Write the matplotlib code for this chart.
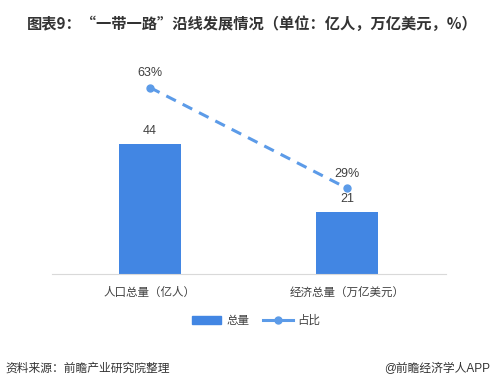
import matplotlib
matplotlib.use("Agg")
import matplotlib.pyplot as plt
from matplotlib.lines import Line2D
from matplotlib.patches import Patch

plt.rcParams['font.family'] = ['Liberation Sans', 'Noto Sans CJK SC', 'DejaVu Sans']

categories = ["人口总量（亿人）", "经济总量（万亿美元）"]
totals = [44, 21]
shares = [63, 29]
title = "图表9：“一带一路”沿线发展情况（单位：亿人，万亿美元，%）"

W, H = 495, 389
fig = plt.figure(figsize=(W/100, H/100), dpi=100)
ax = fig.add_axes([51.5/W, (H-274)/H, 394/W, 224/H])

bar_c = "#4286E3"
line_c = "#5C9BE8"
x = list(range(len(categories)))
ax.bar(x, totals, width=0.315, color=bar_c, zorder=2)
ax.plot(x, shares, color=line_c, lw=2.2, ls=(0, (3.5, 2.5)), marker='o', ms=5, zorder=3)

ax.set_xlim(-0.5, 1.5)
ax.set_ylim(0, 75.7)
for s in ['top', 'right', 'left']:
    ax.spines[s].set_visible(False)
ax.spines['bottom'].set_color('#d9d9d9')
ax.set_yticks([])
ax.set_xticks(x)
ax.set_xticklabels(categories, fontsize=8.3, color='#404040')
ax.tick_params(axis='x', length=0, pad=9)

for xi, v in zip(x, totals):
    ax.annotate(f"{v}", (xi, v), xytext=(0, 5), textcoords='offset points',
                ha='center', va='bottom', fontsize=9, color='#404040')
for xi, v in zip(x, shares):
    ax.annotate(f"{v}%", (xi, v), xytext=(0, 6), textcoords='offset points',
                ha='center', va='bottom', fontsize=9, color='#404040')

handles = [Patch(color=bar_c), Line2D([0], [0], color=line_c, lw=2.2, marker='o', ms=5)]
fig.legend(handles, ["总量", "占比"], loc='center', bbox_to_anchor=(256/W, 1-321/H),
           ncol=2, frameon=False, fontsize=8.3, handlelength=2.6, handleheight=0.6,
           columnspacing=1.2, handletextpad=0.4, labelcolor='#404040')

fig.text(27/W, 1-24/H, title, fontsize=11, fontweight='bold', color='#333333',
         ha='left', va='center', family=['Noto Sans CJK SC', 'DejaVu Sans'])
fig.text(5/W, 1-369/H, "资料来源：前瞻产业研究院整理", fontsize=8.5, style='italic',
         color='#333333', ha='left', va='center')
fig.text(490/W, 1-369/H, "@前瞻经济学人APP", fontsize=8.5, color='#333333',
         ha='right', va='center')

fig.savefig("out.png", dpi=100)
